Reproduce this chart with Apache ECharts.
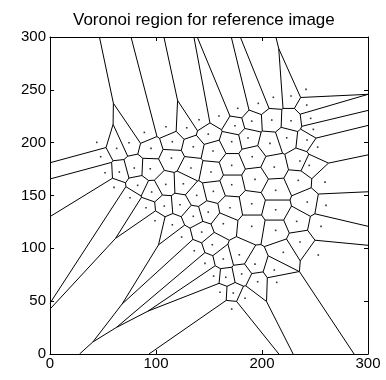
<!DOCTYPE html>
<html>
<head>
<meta charset="utf-8">
<script src="https://cdn.jsdelivr.net/npm/echarts@6/dist/echarts.min.js"></script>
<style>
  html, body { margin: 0; padding: 0; background: #fff; }
  #chart { width: 386px; height: 380px; }
</style>
</head>
<body>
<div id="chart"></div>
<script>
// Seed points (generators) of the Voronoi diagram
const siteX = [
  89.0, 109.4, 44.1, 62.9, 74.5, 95.3, 47.8,
  177.1, 140.6, 159.4, 174.5, 129.0, 149.3, 115.4, 135.2, 153.8, 171.4, 114.6,
  241.5, 210.7, 227.4, 196.5, 242.2, 190.3, 209.2, 227.4, 245.9, 248.4,
  186.8, 207.5, 223.3, 242.5, 190.8, 235.8, 252.5,
  51.9, 65.4, 79.5, 94.6, 60.4, 82.7, 95.9, 109.2, 75.5, 90.6, 107.8, 99.1,
  133.0, 151.9, 171.4, 125.8, 138.4, 154.1, 171.4, 122.6, 149.3, 169.8,
  115.4, 135.2, 163.5, 143.1, 124.2,
  211.6, 244.6, 193.4, 234.2, 259.4, 212.9, 190.3, 212.9, 242.7, 260.4,
  232.7, 255.7, 190.3, 212.9, 235.8,
  136.1, 153.1, 163.5, 178.6, 146.2, 154.4, 165.8, 180.8, 160.4, 172.9, 184.0, 171.4,
  220.1, 253.1, 193.4, 211.6, 195.9, 213.9
];
const siteY = [
  209.7, 215.0, 200.3, 194.6, 199.9, 194.6, 186.7,
  232.5, 221.7, 225.2, 216.0, 214.1, 208.1, 200.9, 196.1, 192.1, 200.9, 185.4,
  250.4, 242.9, 244.1, 237.2, 235.6, 220.4, 221.4, 220.7, 223.0, 212.6,
  204.4, 199.3, 204.6, 202.5, 186.7, 182.6, 195.8,
  171.5, 172.2, 176.0, 175.3, 157.7, 159.6, 153.3, 160.5, 147.9, 138.4, 140.0, 126.1,
  176.0, 172.2, 178.5, 161.1, 150.1, 153.9, 160.2, 141.2, 134.3, 138.4,
  122.3, 130.3, 123.3, 115.4, 110.7,
  176.9, 178.5, 165.3, 164.3, 162.7, 154.9, 142.2, 136.5, 143.8, 140.7,
  125.5, 120.8, 120.8, 117.0, 106.0,
  97.7, 103.4, 89.9, 93.9, 85.8, 73.7, 72.6, 75.7, 58.4, 57.7, 52.7, 42.6,
  96.2, 93.7, 85.1, 79.5, 68.4, 67.8
];

// Axis ranges and tick labels
const xTicks = [0, 100, 200, 300];
const yTicks = [0, 50, 100, 150, 200, 250, 300];

// Voronoi cell of site i: clip a large square by the bisector half-planes.
// Each vertex carries the label of the edge leaving it (-1 = outer square).
function voronoiEdges(xs, ys) {
  const n = xs.length, R = 1e4, edges = [];
  for (let i = 0; i < n; i++) {
    let poly = [
      { x: -R, y: -R, lab: -1 }, { x: R, y: -R, lab: -1 },
      { x: R, y: R, lab: -1 }, { x: -R, y: R, lab: -1 }
    ];
    for (let j = 0; j < n; j++) {
      if (j === i) continue;
      const a = xs[j] - xs[i], b = ys[j] - ys[i];
      const c = a * (xs[i] + xs[j]) / 2 + b * (ys[i] + ys[j]) / 2;
      const out = [];
      for (let k = 0; k < poly.length; k++) {
        const p = poly[k], q = poly[(k + 1) % poly.length];
        const fp = a * p.x + b * p.y - c, fq = a * q.x + b * q.y - c;
        const pin = fp <= 0, qin = fq <= 0;
        if (pin) out.push(p);
        if (pin !== qin) {
          const t = fp / (fp - fq);
          const ix = p.x + t * (q.x - p.x), iy = p.y + t * (q.y - p.y);
          out.push({ x: ix, y: iy, lab: pin ? j : p.lab });
        }
      }
      poly = out;
      if (!poly.length) break;
    }
    for (let k = 0; k < poly.length; k++) {
      const p = poly[k], q = poly[(k + 1) % poly.length];
      if (p.lab > i) edges.push([p.x, p.y, q.x, q.y]);
    }
  }
  return edges;
}

// Liang-Barsky clip of a segment to the plotted square
function clipSeg(s, lo, hi) {
  let [x1, y1, x2, y2] = s, t0 = 0, t1 = 1;
  const dx = x2 - x1, dy = y2 - y1;
  const P = [-dx, dx, -dy, dy], Q = [x1 - lo, hi - x1, y1 - lo, hi - y1];
  for (let k = 0; k < 4; k++) {
    if (P[k] === 0) { if (Q[k] < 0) return null; continue; }
    const r = Q[k] / P[k];
    if (P[k] < 0) { if (r > t1) return null; if (r > t0) t0 = r; }
    else { if (r < t0) return null; if (r < t1) t1 = r; }
  }
  return [x1 + t0 * dx, y1 + t0 * dy, x1 + t1 * dx, y1 + t1 * dy];
}

const edgeData = voronoiEdges(siteX, siteY)
  .map(s => clipSeg(s, 0, 300))
  .filter(s => s && (Math.abs(s[0] - s[2]) + Math.abs(s[1] - s[3]) > 1e-6));

const sites = siteX.map((x, i) => [x, siteY[i]]);

const FONT = '"Liberation Sans", Arial, Helvetica, sans-serif';
const chart = echarts.init(document.getElementById('chart'), null, { renderer: 'canvas' });

const axisCommon = {
  type: 'value', min: 0, max: 300,
  axisLine: { show: true, onZero: false, lineStyle: { color: '#000', width: 1 } },
  axisTick: { show: true, inside: true, length: 4, lineStyle: { color: '#000' } },
  splitLine: { show: false }
};

chart.setOption({
  backgroundColor: '#fff',
  animation: false,
  title: {
    text: 'Voronoi region for reference image',
    left: 68, top: 7,
    textStyle: { fontFamily: FONT, fontSize: 17, fontWeight: 'normal', color: '#000' }
  },
  grid: { left: 50, right: 18, top: 37, bottom: 26, containLabel: false },
  xAxis: [
    Object.assign({}, axisCommon, {
      position: 'bottom', interval: xTicks[1] - xTicks[0],
      axisLabel: { color: '#000', fontFamily: FONT, fontSize: 15, margin: 2 }
    }),
    Object.assign({}, axisCommon, {
      position: 'top', interval: xTicks[1] - xTicks[0],
      axisLabel: { show: false }
    })
  ],
  yAxis: [
    Object.assign({}, axisCommon, {
      position: 'left', interval: yTicks[1] - yTicks[0],
      axisLabel: { color: '#000', fontFamily: FONT, fontSize: 15, margin: 4 }
    }),
    Object.assign({}, axisCommon, {
      position: 'right', interval: yTicks[1] - yTicks[0],
      axisLabel: { show: false }
    })
  ],
  series: [
    {
      type: 'custom',
      coordinateSystem: 'cartesian2d',
      xAxisIndex: 0, yAxisIndex: 0,
      data: edgeData,
      encode: { x: [0, 2], y: [1, 3] },
      silent: true,
      renderItem: function (params, api) {
        const p1 = api.coord([api.value(0), api.value(1)]);
        const p2 = api.coord([api.value(2), api.value(3)]);
        return {
          type: 'line',
          shape: { x1: p1[0], y1: p1[1], x2: p2[0], y2: p2[1] },
          style: { stroke: '#000', lineWidth: 1 }
        };
      }
    },
    {
      type: 'scatter',
      xAxisIndex: 0, yAxisIndex: 0,
      data: sites,
      symbol: 'rect',
      symbolSize: 1.6,
      itemStyle: { color: '#000' },
      silent: true
    }
  ]
});
</script>
</body>
</html>
